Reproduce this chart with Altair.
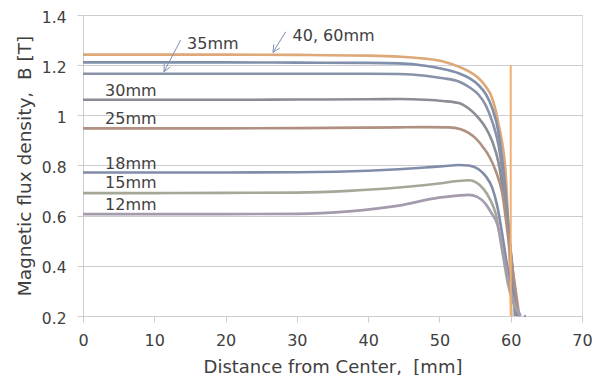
import altair as alt
import pandas as pd
import numpy as np

# ---- data ----
series_names = ["40, 60mm", "40mm", "35mm", "30mm", "25mm", "18mm", "15mm", "12mm"]
series_colors = ["#DEA878", "#8090AA", "#8892A8", "#8C8C94", "#B09080", "#808CA8", "#A4A898", "#A49CAC"]

x_4060 = [0, 10, 20, 30, 40, 44.3, 48, 50.5, 52.7, 54.2, 55.5, 56.5, 57.4, 58.3, 59.3, 60.1]
y_4060 = [1.242, 1.242, 1.242, 1.241, 1.238, 1.234, 1.226, 1.215, 1.194, 1.174, 1.148, 1.115, 1.068, 0.964, 0.766, 0.2]

x_40 = [0, 10, 20, 30, 40, 44.3, 48, 50.5, 52.7, 54.2, 55.5, 56.5, 57.4, 58.3, 59.2, 60.6]
y_40 = [1.211, 1.211, 1.211, 1.210, 1.209, 1.207, 1.198, 1.185, 1.168, 1.148, 1.120, 1.085, 1.029, 0.930, 0.720, 0.2]

x_35 = [0, 10, 20, 30, 40, 44.3, 48, 50.5, 52.7, 54.2, 55.5, 56.5, 57.4, 58.3, 59.2, 60.8]
y_35 = [1.166, 1.166, 1.166, 1.166, 1.166, 1.165, 1.158, 1.148, 1.135, 1.112, 1.082, 1.040, 0.976, 0.880, 0.690, 0.2]

x_30 = [0, 10, 20, 30, 40, 44.3, 48, 50.5, 52.7, 54.2, 55.5, 56.5, 57.4, 58.3, 59.3, 61.0]
y_30 = [1.062, 1.062, 1.062, 1.063, 1.064, 1.065, 1.062, 1.057, 1.049, 1.025, 0.989, 0.950, 0.897, 0.810, 0.620, 0.2]

x_25 = [0, 10, 20, 30, 40, 44.3, 48, 51.3, 53, 54.1, 55.2, 56.2, 57.1, 57.9, 58.8, 59.7, 61.2]
y_25 = [0.948, 0.948, 0.948, 0.949, 0.951, 0.952, 0.953, 0.952, 0.945, 0.930, 0.905, 0.870, 0.830, 0.778, 0.690, 0.500, 0.2]

x_18 = [0, 10, 20, 30, 40, 44.3, 48, 50.5, 52.7, 54.1, 55.5, 56.5, 57.4, 58.1, 58.8, 59.5, 61.0]
y_18 = [0.772, 0.772, 0.772, 0.773, 0.779, 0.785, 0.792, 0.797, 0.802, 0.800, 0.785, 0.757, 0.712, 0.640, 0.528, 0.400, 0.2]

x_15 = [0, 10, 20, 30, 37.3, 44.3, 49.9, 52.5, 54.1, 55.2, 56.2, 57.1, 57.9, 58.8, 59.6, 61.3]
y_15 = [0.690, 0.690, 0.691, 0.692, 0.699, 0.712, 0.728, 0.738, 0.741, 0.732, 0.706, 0.665, 0.607, 0.461, 0.330, 0.2]

x_12 = [0, 10, 20, 30, 37.3, 44.3, 49.9, 52.5, 54.1, 55.3, 56.5, 57.3, 58.1, 58.7, 59.3, 60.0, 61.4]
y_12 = [0.606, 0.606, 0.606, 0.607, 0.617, 0.640, 0.672, 0.680, 0.683, 0.675, 0.646, 0.610, 0.567, 0.490, 0.395, 0.300, 0.2]

step_x = [60, 60]
step_y = [1.2, 0.2]

label_texts = ["35mm", "40, 60mm", "30mm", "25mm", "18mm", "15mm", "12mm"]
label_x = [14.6, 29.4, 3.1, 3.1, 3.1, 3.1, 3.1]
label_y = [1.286, 1.317, 1.099, 0.986, 0.806, 0.729, 0.643]

arrow_x1 = [13.7, 28.43]
arrow_y1 = [1.300, 1.333]
arrow_x2 = [11.36, 26.65]
arrow_y2 = [1.174, 1.251]

dot_x = [62]
dot_y = [0.2]

xs = [x_4060, x_40, x_35, x_30, x_25, x_18, x_15, x_12]
ys = [y_4060, y_40, y_35, y_30, y_25, y_18, y_15, y_12]

rows = []
for i, (name, xx, yy) in enumerate(zip(series_names, xs, ys)):
    for j, (a, b) in enumerate(zip(xx, yy)):
        rows.append({"series": name, "x": a, "y": b, "k": i, "o": j})
df = pd.DataFrame(rows)

W, H = 499, 301
xscale = alt.Scale(domain=[0, 70], nice=False)
yscale = alt.Scale(domain=[0.2, 1.4], nice=False)
GRID = "#CCCCD2"
TXT = "#404040"
FONT = "DejaVu Sans"

xaxis = alt.Axis(values=list(range(0, 71, 10)), title="Distance from Center,\u00a0 [mm]", grid=False,
                 domainColor=GRID, tickColor=GRID, tickSize=6, labelPadding=10, labelFlush=False,
                 labelFontSize=16, titleFontSize=18, labelColor=TXT, titleColor=TXT,
                 labelFont=FONT, titleFont=FONT, titleFontWeight="normal", titlePadding=10)
yaxis = alt.Axis(values=[0.2, 0.4, 0.6, 0.8, 1.0, 1.2, 1.4], title="Magnetic flux density,\u00a0 B [T]",
                 grid=True, gridColor=GRID, domainColor=GRID, tickColor=GRID, tickSize=6,
                 labelPadding=11, labelFontSize=15.5, labelOffset=2, titleFontSize=18.5,
                 labelColor=TXT, titleColor=TXT,
                 labelFont=FONT, titleFont=FONT, titleFontWeight="normal", titlePadding=7,
                 labelFlush=False,
                 labelExpr="datum.value == 1 ? '1' : format(datum.value, '.1f')")

lines = alt.Chart(df).mark_line(interpolate="monotone", strokeWidth=2.6).encode(
    x=alt.X("x:Q", scale=xscale, axis=xaxis),
    y=alt.Y("y:Q", scale=yscale, axis=yaxis),
    color=alt.Color("series:N", scale=alt.Scale(domain=series_names, range=series_colors), legend=None),
    detail="k:N",
    order="o:Q",
)

step = alt.Chart(pd.DataFrame({"x": step_x, "y": step_y})).mark_line(color="#F2B070", strokeWidth=2).encode(
    x=alt.X("x:Q", scale=xscale), y=alt.Y("y:Q", scale=yscale))

labels = alt.Chart(pd.DataFrame({"t": label_texts, "x": label_x, "y": label_y})).mark_text(
    align="left", baseline="middle", fontSize=16, font=FONT, color=TXT).encode(
    x=alt.X("x:Q", scale=xscale), y=alt.Y("y:Q", scale=yscale), text="t:N")

arrows_df = pd.DataFrame({"x": arrow_x1, "y": arrow_y1, "x2": arrow_x2, "y2": arrow_y2})
shafts = alt.Chart(arrows_df).mark_rule(color="#8090B0", strokeWidth=1).encode(
    x=alt.X("x:Q", scale=xscale), y=alt.Y("y:Q", scale=yscale), x2="x2:Q", y2="y2:Q")

# arrowheads: two short strokes back from the tip, computed in pixel space
px = W / 70.0
py = H / 1.2
heads = []
for a, b, c, d in zip(arrow_x1, arrow_y1, arrow_x2, arrow_y2):
    dx, dy = (a - c) * px, (b - d) * py
    L = np.hypot(dx, dy)
    ux, uy = dx / L, dy / L
    for ang in (0.45, -0.45):
        rx = ux * np.cos(ang) - uy * np.sin(ang)
        ry = ux * np.sin(ang) + uy * np.cos(ang)
        heads.append({"x": c, "y": d, "x2": c + rx * 8 / px, "y2": d + ry * 8 / py})
heads_chart = alt.Chart(pd.DataFrame(heads)).mark_rule(color="#8090B0", strokeWidth=1).encode(
    x=alt.X("x:Q", scale=xscale), y=alt.Y("y:Q", scale=yscale), x2="x2:Q", y2="y2:Q")

dot = alt.Chart(pd.DataFrame({"x": dot_x, "y": dot_y})).mark_point(
    filled=True, size=6, color="#9A9AA8", opacity=1).encode(
    x=alt.X("x:Q", scale=xscale), y=alt.Y("y:Q", scale=yscale))

chart = alt.layer(lines, step, dot, shafts, heads_chart, labels).properties(
    width=W, height=H,
    autosize=alt.AutoSizeParams(type="none"),
    padding={"left": 75, "top": 7, "right": 10, "bottom": 59},
).configure_view(stroke=None).configure(background="white")

chart.save("out.html", embed_options={"renderer": "svg", "actions": False})
